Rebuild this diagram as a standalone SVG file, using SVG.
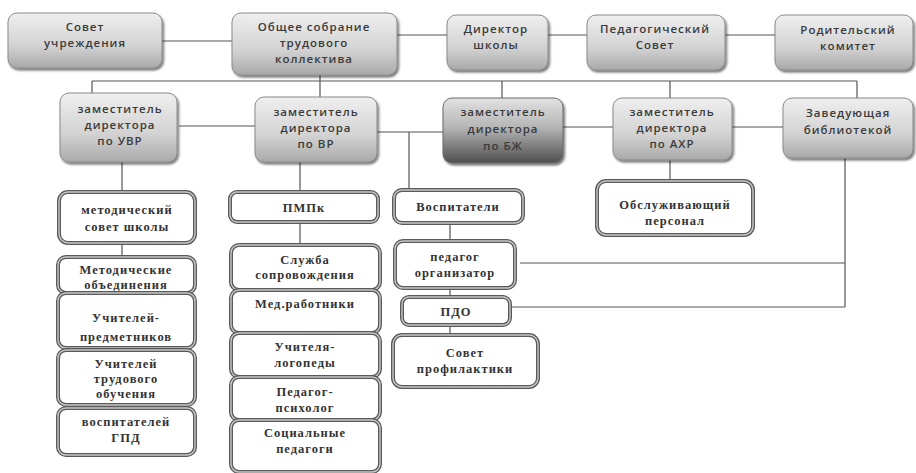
<svg xmlns="http://www.w3.org/2000/svg" width="916" height="473" viewBox="0 0 916 473">
<defs>
<linearGradient id="g1" x1="0" y1="0" x2="0" y2="1">
<stop offset="0" stop-color="#efefef"/>
<stop offset="0.6" stop-color="#d2d2d2"/>
<stop offset="1" stop-color="#a9a9a9"/>
</linearGradient>
<linearGradient id="g2" x1="0" y1="0" x2="0" y2="1">
<stop offset="0" stop-color="#e2e2e2"/>
<stop offset="0.45" stop-color="#b5b5b5"/>
<stop offset="1" stop-color="#4e4e4e"/>
</linearGradient>
<filter id="sh" x="-10%" y="-10%" width="125%" height="130%">
<feDropShadow dx="1.5" dy="2" stdDeviation="1.2" flood-color="#000" flood-opacity="0.55"/>
</filter>
</defs>
<style>
.top{fill:url(#g1);stroke:#8a8a8a;stroke-width:1;filter:url(#sh)}
.dark{fill:url(#g2);stroke:#6a6a6a;stroke-width:1;filter:url(#sh)}
.ob{fill:#fff;stroke:#5a5a5a;stroke-width:4}
.ib{fill:none;stroke:#c8c8c8;stroke-width:1.4}
.ts{font-family:"Open Sans","Liberation Sans",sans-serif;font-size:11.5px;font-weight:600;fill:#3a3a3a;text-anchor:middle;letter-spacing:1px}
.tr{font-family:"Liberation Serif","Times New Roman",serif;font-size:12.5px;font-weight:bold;fill:#333;text-anchor:middle;letter-spacing:1px}
.ln{stroke:#555;stroke-width:1.2;fill:none}
</style>
<rect width="916" height="473" fill="#fff"/>
<g id="connectors">
<path class="ln" d="M162 41H232 M397 35H447 M548 35H587 M725 35H775 M320 75V81 M92 81H857 M92 81V93 M320 81V97 M502 81V98 M670 81V98 M857 81V98 M179 126H255 M377 132H443 M409 132V190 M563 127H613 M732 127H783 M122 162V192 M122 243V257 M300 162V192 M300 222V245 M670 160V181 M450 223V241 M450 288V297 M450 325V335 M845 158V307 M520 263H845 M510 307H845"/>
</g>
<g id="n-sovet-uchr"><rect class="top" x="8" y="13" width="154" height="55" rx="9"/><text class="ts" x="85" y="31">Совет</text><text class="ts" x="85" y="47">учреждения</text></g>
<g id="n-obshee"><rect class="top" x="232" y="13" width="165" height="62" rx="9"/><text class="ts" x="314" y="31">Общее собрание</text><text class="ts" x="314" y="47">трудового</text><text class="ts" x="314" y="63">коллектива</text></g>
<g id="n-direktor"><rect class="top" x="447" y="15" width="101" height="55" rx="9"/><text class="ts" x="496" y="33">Директор</text><text class="ts" x="496" y="49">школы</text></g>
<g id="n-pedsovet"><rect class="top" x="587" y="15" width="138" height="55" rx="9"/><text class="ts" x="655" y="33">Педагогический</text><text class="ts" x="655" y="49">Совет</text></g>
<g id="n-rodkom"><rect class="top" x="775" y="15" width="138" height="55" rx="9"/><text class="ts" x="848" y="34">Родительский</text><text class="ts" x="848" y="50">комитет</text></g>
<g id="n-uvr"><rect class="top" x="60" y="93" width="117" height="69" rx="9"/><text class="ts" x="120" y="113">заместитель</text><text class="ts" x="120" y="129">директора</text><text class="ts" x="120" y="145">по УВР</text></g>
<g id="n-vr"><rect class="top" x="255" y="97" width="122" height="65" rx="9"/><text class="ts" x="316" y="116">заместитель</text><text class="ts" x="316" y="132">директора</text><text class="ts" x="316" y="148">по ВР</text></g>
<g id="n-bzh"><rect class="dark" x="443" y="98" width="120" height="65" rx="9"/><text class="ts" x="503" y="116">заместитель</text><text class="ts" x="503" y="133">директора</text><text class="ts" x="503" y="150">по БЖ</text></g>
<g id="n-ahr"><rect class="top" x="613" y="98" width="119" height="62" rx="9"/><text class="ts" x="672" y="116">заместитель</text><text class="ts" x="672" y="132">директора</text><text class="ts" x="672" y="148">по АХР</text></g>
<g id="n-bibl"><rect class="top" x="783" y="98" width="130" height="60" rx="9"/><text class="ts" x="848" y="117">Заведующая</text><text class="ts" x="848" y="134">библиотекой</text></g>
<g id="n-metsovet"><rect class="ob" x="59" y="192" width="136" height="51" rx="9"/><rect class="ib" x="59" y="192" width="136" height="51" rx="9"/><text class="tr" x="127" y="214">методический</text><text class="tr" x="127" y="231">совет школы</text></g>
<g id="n-metob"><rect class="ob" x="58" y="257" width="137" height="36" rx="8"/><rect class="ib" x="58" y="257" width="137" height="36" rx="8"/><text class="tr" x="126" y="274">Методические</text><text class="tr" x="126" y="289">объединения</text></g>
<g id="n-uchpred"><rect class="ob" x="58" y="293" width="137" height="55" rx="8"/><rect class="ib" x="58" y="293" width="137" height="55" rx="8"/><text class="tr" x="126" y="322">Учителей-</text><text class="tr" x="126" y="341">предметников</text></g>
<g id="n-uchtrud"><rect class="ob" x="58" y="350" width="137" height="55" rx="8"/><rect class="ib" x="58" y="350" width="137" height="55" rx="8"/><text class="tr" x="126" y="368">Учителей</text><text class="tr" x="126" y="383">трудового</text><text class="tr" x="126" y="398">обучения</text></g>
<g id="n-gpd"><rect class="ob" x="58" y="408" width="137" height="47" rx="8"/><rect class="ib" x="58" y="408" width="137" height="47" rx="8"/><text class="tr" x="126" y="426">воспитателей</text><text class="tr" x="126" y="442">ГПД</text></g>
<g id="n-pmpk"><rect class="ob" x="230" y="192" width="148" height="30" rx="7"/><rect class="ib" x="230" y="192" width="148" height="30" rx="7"/><text class="tr" x="304" y="212">ПМПк</text></g>
<g id="n-sluzhba"><rect class="ob" x="231" y="245" width="149" height="45" rx="8"/><rect class="ib" x="231" y="245" width="149" height="45" rx="8"/><text class="tr" x="305" y="264">Служба</text><text class="tr" x="305" y="279">сопровождения</text></g>
<g id="n-med"><rect class="ob" x="231" y="290" width="149" height="43" rx="8"/><rect class="ib" x="231" y="290" width="149" height="43" rx="8"/><text class="tr" x="305" y="308">Мед.работники</text></g>
<g id="n-logoped"><rect class="ob" x="231" y="333" width="149" height="44" rx="8"/><rect class="ib" x="231" y="333" width="149" height="44" rx="8"/><text class="tr" x="305" y="351">Учителя-</text><text class="tr" x="305" y="367">логопеды</text></g>
<g id="n-psiholog"><rect class="ob" x="231" y="377" width="149" height="43" rx="8"/><rect class="ib" x="231" y="377" width="149" height="43" rx="8"/><text class="tr" x="305" y="396">Педагог-</text><text class="tr" x="305" y="412">психолог</text></g>
<g id="n-socped"><rect class="ob" x="231" y="420" width="149" height="52" rx="8"/><rect class="ib" x="231" y="420" width="149" height="52" rx="8"/><text class="tr" x="305" y="437">Социальные</text><text class="tr" x="305" y="453">педагоги</text></g>
<g id="n-vospit"><rect class="ob" x="394" y="190" width="129" height="33" rx="8"/><rect class="ib" x="394" y="190" width="129" height="33" rx="8"/><text class="tr" x="458" y="211">Воспитатели</text></g>
<g id="n-pedorg"><rect class="ob" x="395" y="241" width="120" height="47" rx="8"/><rect class="ib" x="395" y="241" width="120" height="47" rx="8"/><text class="tr" x="455" y="261">педагог</text><text class="tr" x="455" y="277">организатор</text></g>
<g id="n-pdo"><rect class="ob" x="402" y="297" width="108" height="28" rx="7"/><rect class="ib" x="402" y="297" width="108" height="28" rx="7"/><text class="tr" x="456" y="316">ПДО</text></g>
<g id="n-profil"><rect class="ob" x="393" y="335" width="145" height="52" rx="9"/><rect class="ib" x="393" y="335" width="145" height="52" rx="9"/><text class="tr" x="465" y="357">Совет</text><text class="tr" x="465" y="373">профилактики</text></g>
<g id="n-obsl"><rect class="ob" x="597" y="181" width="156" height="54" rx="9"/><rect class="ib" x="597" y="181" width="156" height="54" rx="9"/><text class="tr" x="675" y="209">Обслуживающий</text><text class="tr" x="675" y="225">персонал</text></g>
</svg>
